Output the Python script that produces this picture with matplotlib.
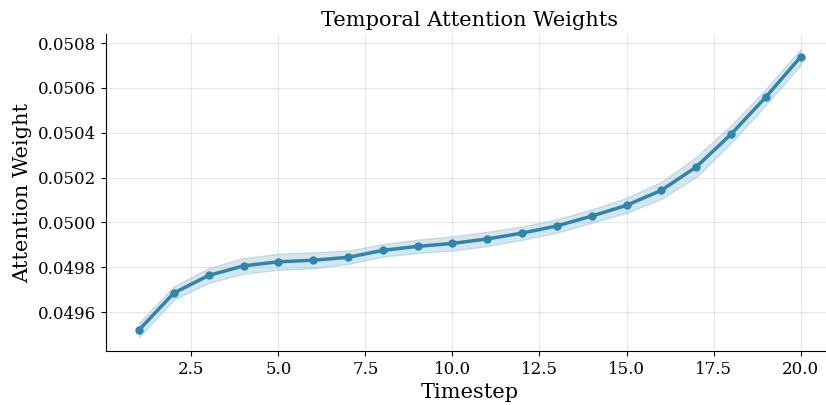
import numpy as np
import matplotlib
matplotlib.use("Agg")
import matplotlib.pyplot as plt

# attention weight per timestep (mean and spread)
timesteps = list(range(1, 21))
mean_weight = [0.049520, 0.049685, 0.049763, 0.049806, 0.049824, 0.049831, 0.049844,
               0.049875, 0.049893, 0.049906, 0.049926, 0.049952, 0.049984, 0.050028,
               0.050076, 0.050143, 0.050247, 0.050393, 0.050559, 0.050738]
std_weight = [0.000032, 0.000030, 0.000033, 0.000035, 0.000036, 0.000036, 0.000030,
              0.000028, 0.000030, 0.000032, 0.000032, 0.000030, 0.000030, 0.000030,
              0.000034, 0.000038, 0.000045, 0.000040, 0.000036, 0.000036]

plt.rcParams['font.family'] = 'DejaVu Serif'

color = '#2e86ab'
mean = np.array(mean_weight)
std = np.array(std_weight)

fig = plt.figure(figsize=(8.26, 4.05), dpi=100)
ax = fig.add_axes([0.1283, 0.1333, 0.881, 0.783])

ax.fill_between(timesteps, mean - std, mean + std, color=color, alpha=0.2)
ax.plot(timesteps, mean, color=color, linewidth=2.5, marker='o', markersize=5)

ax.set_ylim(0.049426, 0.050841)
ax.set_title('Temporal Attention Weights', fontsize=15)
ax.set_xlabel('Timestep', fontsize=15)
ax.set_ylabel('Attention Weight', fontsize=15)
ax.yaxis.set_label_coords(-0.102, 0.5)
ax.tick_params(labelsize=12)
ax.grid(True, alpha=0.3)
ax.spines['top'].set_visible(False)
ax.spines['right'].set_visible(False)

fig.savefig('out.png', dpi=100)
